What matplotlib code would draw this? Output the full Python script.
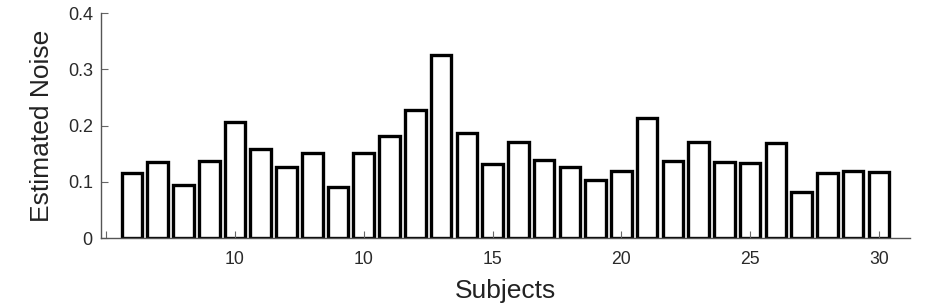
import matplotlib
matplotlib.use("Agg")
import matplotlib.pyplot as plt

# subject index and estimated noise
subjects = list(range(1, 31))
noise = [0.116, 0.135, 0.094, 0.137, 0.207, 0.159, 0.127, 0.152, 0.090, 0.152,
         0.182, 0.228, 0.325, 0.187, 0.132, 0.171, 0.138, 0.126, 0.103, 0.120,
         0.214, 0.137, 0.171, 0.135, 0.133, 0.169, 0.082, 0.116, 0.120, 0.117]
xtick_pos = [0, 5, 10, 15, 20, 25, 30]
xtick_lab = ['', '10', '10', '15', '20', '25', '30']
ytick_pos = [0, 0.1, 0.2, 0.3, 0.4]
ytick_lab = ['0', '0.1', '0.2', '0.3', '0.4']

plt.rcParams['font.family'] = ['Liberation Sans', 'DejaVu Sans']

fig = plt.figure(figsize=(9.36, 3.04), dpi=100)
ax = fig.add_axes([0.108, 0.217, 0.864, 0.740])

ax.bar(subjects, noise, width=0.8, facecolor='white', edgecolor='black',
       linewidth=2.4)

ax.set_xlim(-0.2, 31.2)
ax.set_ylim(0, 0.4)
ax.set_xticks(xtick_pos)
ax.set_xticklabels(xtick_lab, fontsize=12.7, color='#2a2a2a')
ax.set_yticks(ytick_pos)
ax.set_yticklabels(ytick_lab, fontsize=13, color='#2a2a2a')
ax.tick_params(direction='in', length=5, color='#666666', width=0.8)
ax.tick_params(axis='x', pad=9)
ax.tick_params(axis='y', pad=6)

for s in ['top', 'right']:
    ax.spines[s].set_visible(False)
for s in ['left', 'bottom']:
    ax.spines[s].set_color('#555555')
    ax.spines[s].set_linewidth(1.0)

ax.set_xlabel('Subjects', fontsize=19, color='#222222', labelpad=8)
ax.set_ylabel('Estimated Noise', fontsize=19, color='#222222', labelpad=10)

fig.savefig('out.png', dpi=100)
